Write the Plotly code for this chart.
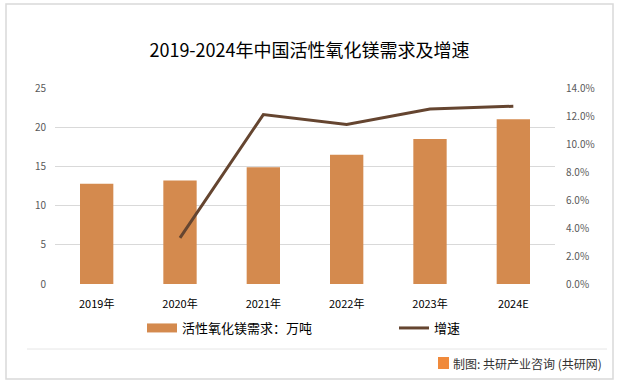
import plotly.graph_objects as go

years = ["2019年", "2020年", "2021年", "2022年", "2023年", "2024E"]
demand = [12.8, 13.2, 14.9, 16.5, 18.5, 21.0]
growth_years = ["2020年", "2021年", "2022年", "2023年", "2024E"]
growth = [3.3, 12.1, 11.4, 12.5, 12.7]

bar_name = "活性氧化镁需求：万吨"
line_name = "增速"
title = "2019-2024年中国活性氧化镁需求及增速"
source = "制图: 共研产业咨询 (共研网)"

font_cn = "Noto Sans CJK SC, Microsoft YaHei, sans-serif"
bar_color = "#D48A4E"
line_color = "#654530"

# plot area in pixels: x 55..555, y 88..284
PX0, PW, PY0, PH = 55, 500, 284, 196
def px(x):
    return (x - PX0) / PW
def py(y):
    return (PY0 - y) / PH

fig = go.Figure()
fig.add_trace(go.Bar(
    x=years, y=demand, name=bar_name,
    marker=dict(color=bar_color, line=dict(width=0)),
    width=0.4, yaxis="y", showlegend=False,
))
# legend stand-in for the bar series (wide rectangle symbol)
fig.add_trace(go.Scatter(
    x=[None], y=[None], name=bar_name, mode="lines",
    line=dict(color=bar_color, width=9), yaxis="y", legend="legend",
))
fig.add_trace(go.Scatter(
    x=growth_years, y=growth, name=line_name, mode="lines",
    line=dict(color=line_color, width=3), yaxis="y2", legend="legend2",
))

legend_font = dict(size=13, color="#000000", family=font_cn)
fig.update_layout(
    width=619, height=387,
    margin=dict(l=55, r=64, t=88, b=103, autoexpand=False),
    paper_bgcolor="white", plot_bgcolor="white",
    font=dict(family=font_cn, color="#404040", size=11),
    title=dict(text=title, x=0.5, xanchor="center", y=0.87, yanchor="middle",
               font=dict(size=18, color="#000000", family=font_cn)),
    xaxis=dict(type="category", showgrid=False, zeroline=False,
               showline=False, ticks="", tickfont=dict(size=11, color="#000000"),
               ticklabelstandoff=12, automargin=False),
    yaxis=dict(range=[0, 25], dtick=5, showgrid=True, gridcolor="#D9D9D9",
               gridwidth=1, zeroline=False, showline=False, automargin=False,
               tickfont=dict(size=10, color="#595959"), ticklabelstandoff=8),
    yaxis2=dict(range=[0, 14], dtick=2, overlaying="y", side="right",
                showgrid=False, zeroline=False, showline=False, automargin=False,
                ticksuffix="%", tickformat=".1f",
                tickfont=dict(size=10, color="#595959"), ticklabelstandoff=10),
    bargap=0.6,
    legend=dict(orientation="h", x=px(142), xanchor="left",
                y=py(313), yanchor="top", font=legend_font),
    legend2=dict(orientation="h", x=px(394), xanchor="left",
                 y=py(313), yanchor="top", font=legend_font),
    showlegend=True,
)

# outer frame and separator
fig.add_shape(type="rect", xref="paper", yref="paper",
              x0=px(6), x1=px(613), y0=py(379), y1=py(4),
              line=dict(color="#D9D9D9", width=1.5), fillcolor="rgba(0,0,0,0)")
fig.add_shape(type="line", xref="paper", yref="paper",
              x0=px(27), x1=px(607), y0=py(349), y1=py(349),
              line=dict(color="#E6E6E6", width=1))
# logo
fig.add_shape(type="rect", xref="paper", yref="paper",
              x0=px(438), x1=px(449), y0=py(369), y1=py(357),
              line=dict(width=0), fillcolor="#F08A3C")
fig.add_annotation(text=source, xref="paper", yref="paper",
                   x=px(604), y=py(363), xanchor="right", yanchor="middle",
                   showarrow=False, font=dict(size=12, color="#333333", family=font_cn))

fig.write_html("out.html", config={"displayModeBar": False},
               post_script="document.body.style.margin='0';document.body.style.padding='0';")
